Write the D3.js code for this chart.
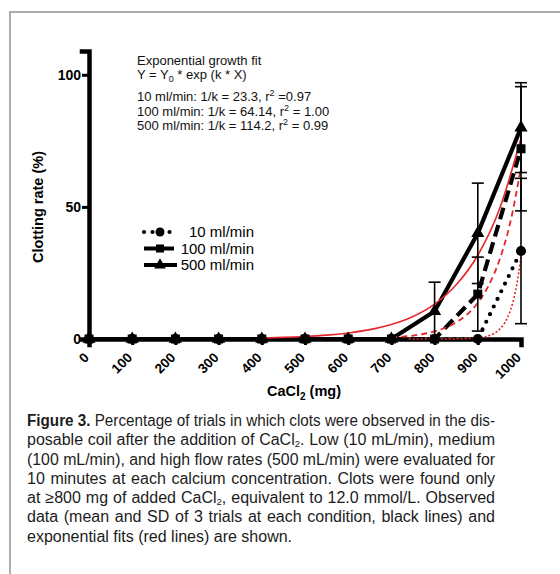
<!DOCTYPE html>
<html>
<head>
<meta charset="utf-8">
<script src="https://cdn.jsdelivr.net/npm/d3@7"></script>
<style>
    html, body { margin: 0; background: #fff; overflow: hidden; }
    #frame { position: absolute; left: 9px; top: 11px; width: 700px; height: 700px;
        border-left: 2px solid #ababab; border-top: 2px solid #ababab; }
    svg { position: absolute; left: 0; top: 0; }
</style>
</head>
<body>
<div id="frame"></div>
<svg width="560" height="574"></svg>
<script>
// CaCl2 dose (mg) on x
const doses = [0, 100, 200, 300, 400, 500, 600, 700, 800, 900, 1000];
const yTicks = [0, 50, 100];

// observed clotting rate (%) and SD
const rate10 = [0, 0, 0, 0, 0, 0, 0, 0, 0, 0, 33.3];
const sd10 = [0, 0, 0, 0, 0, 0, 0, 0, 0, 0, 27.5];
const rate100 = [0, 0, 0, 0, 0, 0, 0, 0, 0, 17, 72];
const sd100 = [0, 0, 0, 0, 0, 0, 0, 0, 0, 14, 23.5];
const rate500 = [0, 0, 0, 0, 0, 0, 0, 0, 10.5, 40, 80];
const sd500 = [0, 0, 0, 0, 0, 0, 0, 0, 11, 19, 17];

// exponential fit curves (red)
const fitX10 = [740, 800, 850, 900, 925, 950, 962.5, 975, 987.5, 1000];
const fit10 = [0, 0.02, 0.06, 0.42, 1.2, 3.6, 6.2, 10.6, 18.2, 31];
const fitX100 = [700, 750, 800, 850, 900, 925, 950, 975, 1000];
const fit100 = [0.6, 1.3, 2.9, 6.3, 13.7, 20.2, 29.8, 44.0, 65];
const fitX500 = [400, 450, 500, 550, 600, 650, 700, 750, 800, 850, 900, 950, 1000];
const fit500 = [0.4, 0.61, 0.95, 1.47, 2.3, 3.55, 5.5, 8.5, 13.2, 20.5, 31.7, 49.1, 76];

const legendNames = ["10 ml/min", "100 ml/min", "500 ml/min"];

const svg = d3.select("svg");
const x = d3.scaleLinear().domain([0, 1000]).range([89, 521]);
const y = d3.scaleLinear().domain([0, 109]).range([339, 51]);

const series = [
    {name: legendNames[0], vals: rate10, sd: sd10, fx: fitX10, fy: fit10,
        dash: "0,8.5", cap: "round", sym: d3.symbolCircle, size: 80, fitDash: "2,2", fitW: 1.6},
    {name: legendNames[1], vals: rate100, sd: sd100, fx: fitX100, fy: fit100,
        dash: "12,6", cap: "butt", sym: d3.symbolSquare, size: 81, fitDash: "6,4", fitW: 1.8},
    {name: legendNames[2], vals: rate500, sd: sd500, fx: fitX500, fy: fit500,
        dash: null, cap: "butt", sym: d3.symbolTriangle, size: 75, fitDash: null, fitW: 1.6}
];

const red = "#e5262b";
const font = "'Liberation Sans', Arial, sans-serif";

// axes
const xAxis = svg.append("g")
    .attr("transform", "translate(0,339)")
    .call(d3.axisBottom(x).tickValues(doses).tickSizeOuter(0).tickSize(6).tickFormat(d3.format("d")));
xAxis.select(".domain").attr("stroke-width", 4.5).attr("stroke-linecap", "square");
xAxis.selectAll(".tick line").attr("stroke-width", 3);
xAxis.selectAll(".tick text")
    .attr("font-family", font).attr("font-weight", "bold").attr("font-size", 13.5)
    .attr("text-anchor", "end")
    .attr("x", 0).attr("y", 0).attr("dy", "0.35em")
    .attr("transform", "translate(-3,16) rotate(-45)");

const yAxis = svg.append("g")
    .attr("transform", "translate(89,0)")
    .call(d3.axisLeft(y).tickValues(yTicks).tickSizeOuter(0).tickSize(7));
yAxis.select(".domain").attr("stroke-width", 4.5).attr("stroke-linecap", "square");
yAxis.selectAll(".tick line").attr("stroke-width", 3);
yAxis.selectAll(".tick text")
    .attr("font-family", font).attr("font-weight", "bold").attr("font-size", 14)
    .attr("x", -8);

// axis titles
svg.append("text")
    .attr("transform", "translate(43,207) rotate(-90)")
    .attr("text-anchor", "middle")
    .attr("font-family", font).attr("font-weight", "bold").attr("font-size", 14.5)
    .text("Clotting rate (%)");

const xt = svg.append("text")
    .attr("x", 304).attr("y", 396)
    .attr("text-anchor", "middle")
    .attr("font-family", font).attr("font-weight", "bold").attr("font-size", 14.5);
xt.append("tspan").text("CaCl");
xt.append("tspan").attr("font-size", 10).attr("dy", 4).text("2");
xt.append("tspan").attr("dy", -4).text(" (mg)");

const line = d3.line().x(d => x(d[0])).y(d => y(d[1]));
const fitLine = d3.line().x(d => x(d[0])).y(d => y(d[1])).curve(d3.curveMonotoneX);

// observed lines
series.forEach(s => {
    svg.append("path")
        .datum(doses.map((d, i) => [d, s.vals[i]]))
        .attr("d", line)
        .attr("fill", "none").attr("stroke", "#000")
        .attr("stroke-width", 4.2)
        .attr("stroke-dasharray", s.dash)
        .attr("stroke-linecap", s.cap);
});

// fits
series.forEach(s => {
    svg.append("path")
        .datum(s.fx.map((d, i) => [d, s.fy[i]]))
        .attr("d", fitLine)
        .attr("fill", "none").attr("stroke", red)
        .attr("stroke-width", s.fitW)
        .attr("stroke-dasharray", s.fitDash);
});

// error bars + markers
series.forEach(s => {
    const pts = doses.map((d, i) => ({x: d, v: s.vals[i], e: s.sd[i]}));
    const eb = svg.append("g").attr("stroke", "#000").attr("stroke-width", 1.6);
    pts.filter(p => p.e > 0).forEach(p => {
        const cx = x(p.x), y1 = y(p.v + p.e), y2 = y(p.v - p.e);
        eb.append("line").attr("x1", cx).attr("x2", cx).attr("y1", y1).attr("y2", y2);
        eb.append("line").attr("x1", cx - 6).attr("x2", cx + 6).attr("y1", y1).attr("y2", y1);
        eb.append("line").attr("x1", cx - 6).attr("x2", cx + 6).attr("y1", y2).attr("y2", y2);
    });
    svg.append("g").selectAll("path")
        .data(pts)
        .join("path")
        .attr("transform", p => `translate(${x(p.x)},${y(p.v)})`)
        .attr("d", d3.symbol().type(s.sym).size(s.size))
        .attr("fill", "#000");
});

// legend
const lg = svg.append("g");
series.forEach((s, i) => {
    const ly = 232 + i * 16.5;
    lg.append("line")
        .attr("x1", 144).attr("x2", 177).attr("y1", ly).attr("y2", ly)
        .attr("stroke", "#000").attr("stroke-width", 4.2)
        .attr("stroke-dasharray", s.dash).attr("stroke-linecap", s.cap);
    lg.append("path")
        .attr("transform", `translate(160,${ly})`)
        .attr("d", d3.symbol().type(s.sym).size(s.size * 0.8));
    lg.append("text")
        .attr("x", 254).attr("y", ly).attr("dy", "0.35em")
        .attr("text-anchor", "end")
        .attr("font-family", font).attr("font-size", 15)
        .text(s.name);
});

// fit annotation
const note = svg.append("g")
    .attr("font-family", font)
    .attr("font-size", 13).attr("fill", "#111");
note.append("text").attr("x", 137).attr("y", 65).text("Exponential growth fit");
const eq = note.append("text").attr("x", 137).attr("y", 79);
eq.append("tspan").text("Y = Y");
eq.append("tspan").attr("font-size", 9).attr("dy", 3).text("0");
eq.append("tspan").attr("dy", -3).text(" * exp (k * X)");
const fitText = [
    ["10 ml/min: 1/k = 23.3, r", " =0.97"],
    ["100 ml/min: 1/k = 64.14, r", " = 1.00"],
    ["500 ml/min: 1/k = 114.2, r", " = 0.99"]
];
fitText.forEach((t, i) => {
    const tx = note.append("text").attr("x", 137).attr("y", 101 + i * 14.5);
    tx.append("tspan").text(t[0]);
    tx.append("tspan").attr("font-size", 9).attr("dy", -5).text("2");
    tx.append("tspan").attr("dy", 5).text(t[1]);
});

// caption
const caption = [
    [{t: "Figure 3.", b: true}, {t: " Percentage of trials in which clots were observed in the dis-"}],
    [{t: "posable coil after the addition of CaCl"}, {t: "2", sub: true}, {t: ". Low (10 mL/min), medium", up: true}],
    [{t: "(100 mL/min), and high flow rates (500 mL/min) were evaluated for"}],
    [{t: "10 minutes at each calcium concentration. Clots were found only"}],
    [{t: "at \u2265800 mg of added CaCl"}, {t: "2", sub: true}, {t: ", equivalent to 12.0 mmol/L. Observed", up: true}],
    [{t: "data (mean and SD of 3 trials at each condition, black lines) and"}],
    [{t: "exponential fits (red lines) are shown."}]
];
const capX = 27, capW = 468;
caption.forEach((segs, i) => {
    const tx = svg.append("text")
        .attr("x", capX).attr("y", 426 + i * 19.25)
        .attr("font-family", font)
        .attr("font-size", 16).attr("fill", "#1c1c1c");
    segs.forEach(sg => {
        const ts = tx.append("tspan").text(sg.t);
        if (sg.b) ts.attr("font-weight", "bold");
        if (sg.sub) ts.attr("font-size", 9.5).attr("dy", 1.5);
        if (sg.up) ts.attr("dy", -1.5);
    });
    if (i === caption.length - 1) return;
    const w = tx.node().getComputedTextLength();
    const text = segs.map(s => s.t).join("");
    const spaces = (text.match(/ /g) || []).length;
    if (w < capW) {
        tx.attr("word-spacing", (capW - w) / spaces);
    } else {
        tx.attr("textLength", capW).attr("lengthAdjust", "spacingAndGlyphs");
    }
});
</script>
</body>
</html>
